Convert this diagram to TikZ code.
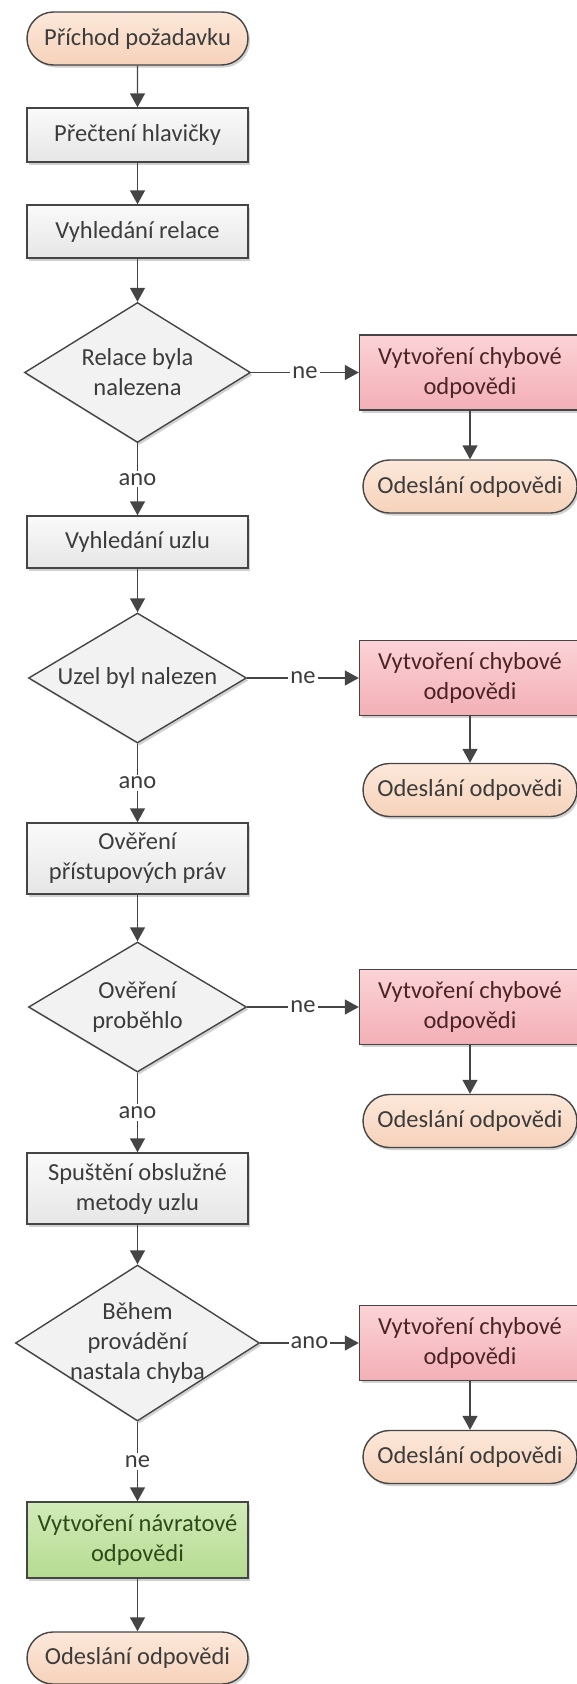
\documentclass[tikz,border=0pt]{standalone}
\usepackage{fontspec}
\setmainfont{Carlito}
\usetikzlibrary{shapes.geometric,shapes.misc,shadows,arrows.meta}

\definecolor{edge}{HTML}{454545}
\definecolor{txtgrey}{HTML}{3C3C3C}
\definecolor{procTop}{HTML}{FAFAFA}
\definecolor{procBot}{HTML}{E6E6E6}
\definecolor{decFill}{HTML}{F2F2F2}
\definecolor{termTop}{HTML}{FCE8DA}
\definecolor{termBot}{HTML}{F6D2BA}
\definecolor{errTop}{HTML}{FBD3D7}
\definecolor{errBot}{HTML}{F3AFB6}
\definecolor{errTxt}{HTML}{4A2426}
\definecolor{okTop}{HTML}{D2EBBA}
\definecolor{okBot}{HTML}{B5DB90}
\definecolor{okTxt}{HTML}{2E4A18}

\begin{document}
\begin{tikzpicture}[x=1pt,y=-1pt,
  font=\fontsize{24.5}{30}\selectfont,
  base/.style={draw=edge, line width=1.4pt, inner sep=0pt, align=center,
    drop shadow={shadow xshift=2pt, shadow yshift=-2.5pt, opacity=0.18, fill=black}},
  proc/.style={base, rectangle, minimum width=221pt, top color=procTop, bottom color=procBot, text=txtgrey},
  term/.style={base, rounded rectangle, minimum width=214pt, minimum height=53pt, top color=termTop, bottom color=termBot, text=txtgrey},
  errbox/.style={base, rectangle, minimum width=221pt, minimum height=75pt, top color=errTop, bottom color=errBot, text=errTxt},
  okbox/.style={base, rectangle, minimum width=221pt, top color=okTop, bottom color=okBot, text=okTxt},
  decision/.style={base, diamond, fill=decFill},
  dtext/.style={align=center, text=txtgrey, inner sep=0pt},
  arr/.style={draw=edge, line width=1.4pt, -{Triangle[length=14pt,width=15pt]}},
  lbl/.style={fill=white, inner sep=2pt, text=txtgrey},
]
\useasboundingbox (0,0) rectangle (577,1684);

% main column
\node[term] (start) at (137.5,38.5) [minimum width=221pt] {Příchod požadavku};
\node[proc, minimum height=54pt] (b1) at (137.5,135) {Přečtení hlavičky};
\node[proc, minimum height=53pt] (b2) at (137.5,231.5) {Vyhledání relace};
\node[decision, minimum width=226pt, minimum height=140pt] (d1) at (137.5,372.5) {};
\node[dtext] (d1t) at (d1) {Relace byla\\nalezena};
\node[proc, minimum height=52pt] (b3) at (137.5,542) {Vyhledání uzlu};
\node[decision, minimum width=218pt, minimum height=130pt] (d2) at (137.5,678) {};
\node[dtext] (d2t) at (d2) {Uzel byl nalezen};
\node[proc, minimum height=71pt] (b4) at (137.5,858.5) {Ověření\\přístupových práv};
\node[decision, minimum width=218pt, minimum height=130pt] (d3) at (137.5,1007) {};
\node[dtext] (d3t) at (d3) {Ověření\\proběhlo};
\node[proc, minimum height=71pt] (b5) at (137.5,1188.5) {Spuštění obslužné\\metody uzlu};
\node[decision, minimum width=244pt, minimum height=156pt] (d4) at (137.5,1343) {};
\node[dtext] (d4t) at (d4) {Během\\provádění\\nastala chyba};
\node[okbox, minimum height=76pt] (ok) at (137.5,1540) {Vytvoření návratové\\odpovědi};
\node[term, minimum width=221pt, minimum height=52pt] (end) at (137.5,1658) {Odeslání odpovědi};

% error branches
\node[errbox] (r1) at (470,372.5) {Vytvoření chybové\\odpovědi};
\node[term] (t1) at (470,486.5) {Odeslání odpovědi};
\node[errbox] (r2) at (470,678) {Vytvoření chybové\\odpovědi};
\node[term] (t2) at (470,790) {Odeslání odpovědi};
\node[errbox] (r3) at (470,1007) {Vytvoření chybové\\odpovědi};
\node[term] (t3) at (470,1121) {Odeslání odpovědi};
\node[errbox] (r4) at (470,1343) {Vytvoření chybové\\odpovědi};
\node[term] (t4) at (470,1457) {Odeslání odpovědi};

% connectors
\draw[arr] (start) -- (b1);
\draw[arr] (b1) -- (b2);
\draw[arr] (b2) -- (d1);
\draw[arr] (d1) -- node[lbl] {ano} (b3);
\draw[arr] (b3) -- (d2);
\draw[arr] (d2) -- node[lbl] {ano} (b4);
\draw[arr] (b4) -- (d3);
\draw[arr] (d3) -- node[lbl] {ano} (b5);
\draw[arr] (b5) -- (d4);
\draw[arr] (d4) -- node[lbl] {ne} (ok);
\draw[arr] (ok) -- (end);

\draw[arr] (d1) -- node[lbl] {ne} (r1);
\draw[arr] (d2) -- node[lbl] {ne} (r2);
\draw[arr] (d3) -- node[lbl] {ne} (r3);
\draw[arr] (d4) -- node[lbl] {ano} (r4);
\draw[arr] (r1) -- (t1);
\draw[arr] (r2) -- (t2);
\draw[arr] (r3) -- (t3);
\draw[arr] (r4) -- (t4);
\end{tikzpicture}
\end{document}
